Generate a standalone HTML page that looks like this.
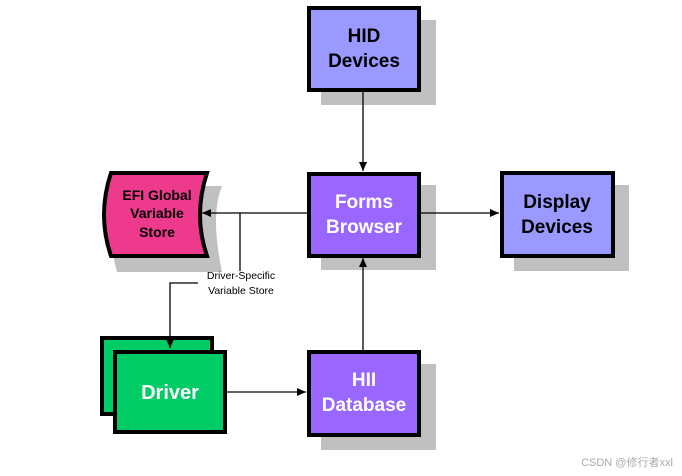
<!DOCTYPE html>
<html><head><meta charset="utf-8"><style>
html,body{margin:0;padding:0;background:#fff}
svg{display:block}
text{font-family:"Liberation Sans",sans-serif;text-anchor:middle}
.b{font-weight:bold}
.n{font-weight:normal}
</style></head><body>
<svg width="682" height="476" viewBox="0 0 682 476" xmlns="http://www.w3.org/2000/svg">
<defs><marker id="a" markerWidth="10" markerHeight="10" refX="9" refY="5" orient="auto" markerUnits="userSpaceOnUse"><path d="M0,1 L9,5 L0,9 Z" fill="#000"/></marker></defs>
<g fill="#c0c0c0">
<rect x="321" y="20" width="115" height="85"/>
<rect x="321" y="185" width="115" height="85"/>
<rect x="514" y="185" width="115" height="86"/>
<rect x="321" y="364" width="115" height="86"/>
<path d="M117,186 L222,186 Q210,215 222,272 L117,272 Q105,230 117,186 Z"/>
</g>
<g stroke="#000" stroke-width="4">
<rect x="309" y="8" width="110" height="82" fill="#9999ff"/>
<rect x="309" y="174" width="110" height="82" fill="#9966ff"/>
<rect x="502" y="173" width="111" height="83" fill="#9999ff"/>
<rect x="309" y="352" width="110" height="83" fill="#9966ff"/>
<rect x="102" y="338" width="110" height="76" fill="#00cc66"/>
<rect x="115" y="352" width="110" height="80" fill="#00cc66"/>
<path d="M111,173 L207,173 Q193,215 207,256 L111,256 Q97,215 111,173 Z" fill="#ee3a8c"/>
</g>
<g stroke="#000" stroke-width="1.3" fill="none">
<line x1="363" y1="92" x2="363" y2="171" marker-end="url(#a)"/>
<line x1="421" y1="213" x2="499" y2="213" marker-end="url(#a)"/>
<line x1="307" y1="213" x2="202" y2="213" marker-end="url(#a)"/>
<line x1="240" y1="213" x2="240" y2="271"/>
<polyline points="198,283 170,283 170,348" marker-end="url(#a)"/>
<line x1="227" y1="392" x2="306" y2="392" marker-end="url(#a)"/>
<line x1="363" y1="350" x2="363" y2="258" marker-end="url(#a)"/>
</g>
<g font-size="19" class="b">
<text class="b" x="364" y="42" fill="#000">HID</text><text class="b" x="364" y="67" fill="#000">Devices</text>
<text class="b" x="364" y="208" fill="#fff">Forms</text><text class="b" x="364" y="233" fill="#fff">Browser</text>
<text class="b" x="557" y="208" fill="#000">Display</text><text class="b" x="557" y="233" fill="#000">Devices</text>
<text class="b" x="364" y="386" fill="#fff">HII</text><text class="b" x="364" y="411" fill="#fff">Database</text>
<text class="b" x="170" y="399" fill="#fff" font-size="20">Driver</text>
</g>
<g font-size="14" fill="#000">
<text class="b" x="157" y="200">EFI Global</text><text class="b" x="157" y="218">Variable</text><text class="b" x="157" y="237">Store</text>
</g>
<g font-size="10.5" fill="#000">
<text class="n" x="241" y="279">Driver-Specific</text>
<text class="n" x="241" y="294">Variable Store</text>
</g>
<text class="n" x="627" y="466" font-size="11" fill="#aaa" style="font-family:'Liberation Sans','Noto Sans CJK SC',sans-serif">CSDN @修行者xxl</text>
</svg>
</body></html>
